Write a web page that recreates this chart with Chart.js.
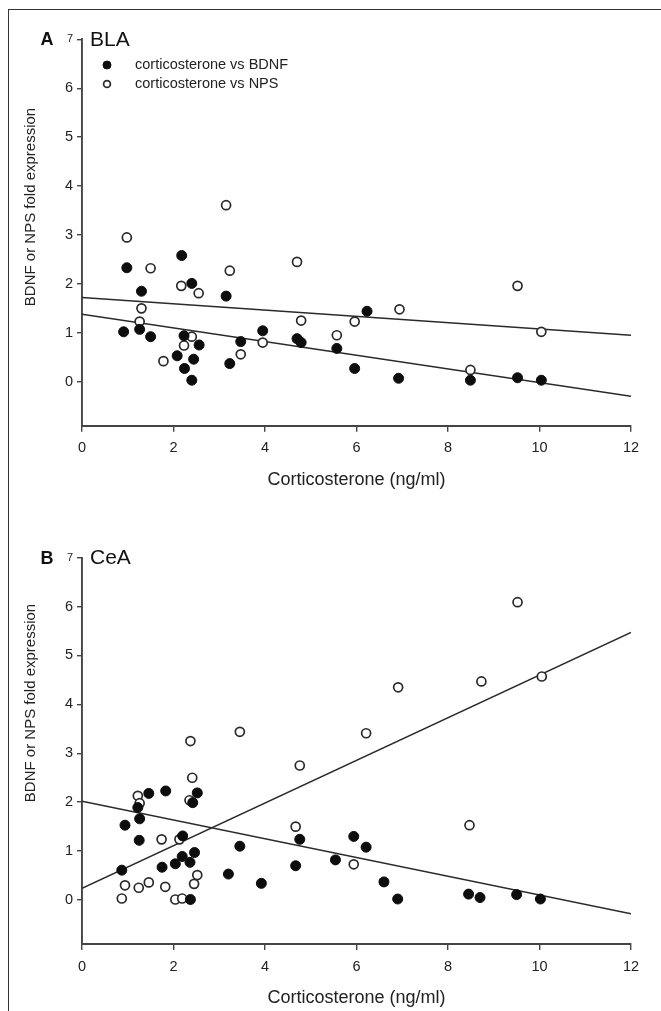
<!DOCTYPE html>
<html>
<head>
<meta charset="utf-8">
<script src="https://cdn.jsdelivr.net/npm/chart.js@4.4.1/dist/chart.umd.min.js"></script>
<style>
    html, body { margin: 0; padding: 0; background: #fff; }
    #page { position: relative; width: 661px; height: 1011px; overflow: hidden; }
    #frame { position: absolute; left: 8px; top: 9px; width: 700px; height: 1100px;
             border-left: 1.5px solid #333; border-top: 1.5px solid #333; }
    canvas { position: absolute; left: 0; }
    #chartA { top: 0; }
    #chartB { top: 500px; }
</style>
</head>
<body>
<div id="page">
    <div id="frame"></div>
    <canvas id="chartA" width="661" height="500"></canvas>
    <canvas id="chartB" width="661" height="511"></canvas>
</div>
<script>
// axis ticks
const xTicks = [0, 2, 4, 6, 8, 10, 12];
const yTicks = [0, 1, 2, 3, 4, 5, 6, 7];
const fitX = [0, 12];

// A - BLA
const blaCortBdnf = [0.91, 0.98, 1.26, 1.30, 1.50, 2.08, 2.18, 2.23, 2.24, 2.40, 2.40, 2.44, 2.56, 3.15, 3.23, 3.47, 3.95, 4.70, 4.79, 5.57, 5.96, 6.23, 6.92, 8.49, 9.52, 10.04];
const blaBdnf     = [1.02, 2.33, 1.07, 1.85, 0.92, 0.53, 2.58, 0.94, 0.27, 2.01, 0.03, 0.46, 0.75, 1.75, 0.37, 0.82, 1.04, 0.88, 0.80, 0.68, 0.27, 1.44, 0.07, 0.03, 0.08, 0.03];
const blaCortNps  = [0.98, 1.26, 1.30, 1.50, 1.78, 2.17, 2.23, 2.40, 2.55, 3.15, 3.23, 3.47, 3.95, 4.70, 4.79, 5.57, 5.96, 6.94, 8.49, 9.52, 10.04];
const blaNps      = [2.95, 1.23, 1.50, 2.32, 0.42, 1.96, 0.74, 0.92, 1.81, 3.61, 2.27, 0.56, 0.80, 2.45, 1.25, 0.95, 1.23, 1.48, 0.24, 1.96, 1.02];
const blaBdnfFit  = [1.38, -0.30];
const blaNpsFit   = [1.72, 0.95];

// B - CeA
const ceaCortBdnf = [0.87, 0.94, 1.22, 1.25, 1.26, 1.46, 1.75, 1.83, 2.04, 2.19, 2.20, 2.36, 2.37, 2.42, 2.46, 2.52, 3.20, 3.45, 3.92, 4.67, 4.76, 5.54, 5.94, 6.21, 6.60, 6.90, 8.45, 8.70, 9.50, 10.02];
const ceaBdnf     = [0.61, 1.53, 1.89, 1.22, 1.66, 2.18, 0.67, 2.23, 0.74, 0.89, 1.31, 0.77, 0.01, 1.99, 0.97, 2.19, 0.53, 1.10, 0.34, 0.70, 1.24, 0.82, 1.30, 1.08, 0.37, 0.02, 0.12, 0.05, 0.11, 0.02];
const ceaCortNps  = [0.87, 0.94, 1.22, 1.24, 1.26, 1.46, 1.74, 1.82, 2.04, 2.13, 2.19, 2.35, 2.37, 2.41, 2.45, 2.52, 3.45, 4.67, 4.76, 5.94, 6.21, 6.91, 8.47, 8.73, 9.52, 10.05];
const ceaNps      = [0.03, 0.30, 2.13, 0.25, 1.98, 0.36, 1.24, 0.27, 0.01, 1.24, 0.03, 2.04, 3.25, 2.50, 0.33, 0.51, 3.44, 1.50, 2.75, 0.73, 3.41, 4.35, 1.53, 4.47, 6.09, 4.57];
const ceaBdnfFit  = [2.02, -0.28];
const ceaNpsFit   = [0.24, 5.47];

const FONT = '"Liberation Sans", Arial, Helvetica, sans-serif';
const INK = '#222';

function toPoints(xs, ys) {
    return xs.map((x, i) => ({ x: x, y: ys[i] }));
}

// panel letter, region name, rotated y title and the in-plot legend
const panelText = {
    id: 'panelText',
    afterDraw(chart, args, o) {
        const ctx = chart.ctx;
        const area = chart.chartArea;
        const top = chart.scales.y.getPixelForValue(7);
        ctx.save();
        ctx.fillStyle = '#111';
        ctx.textBaseline = 'middle';
        ctx.textAlign = 'center';
        ctx.font = 'bold 18px ' + FONT;
        ctx.fillText(o.letter, 47, top + 1);
        ctx.textAlign = 'left';
        ctx.font = '21px ' + FONT;
        ctx.fillText(o.region, area.left + 8, top + 1);

        ctx.fillStyle = INK;
        ctx.save();
        ctx.translate(31, o.titleY);
        ctx.rotate(-Math.PI / 2);
        ctx.textAlign = 'center';
        ctx.font = '15px ' + FONT;
        ctx.fillText('BDNF or NPS fold expression', 0, 0);
        ctx.restore();

        if (o.legend) {
            chart.data.datasets.filter(d => d.type !== 'line').forEach((d, i) => {
                const ly = o.legend.y + i * 19;
                ctx.beginPath();
                ctx.arc(o.legend.x, ly, i === 0 ? 4 : 3.4, 0, Math.PI * 2);
                ctx.fillStyle = d.backgroundColor;
                ctx.fill();
                ctx.lineWidth = d.borderWidth;
                ctx.strokeStyle = d.borderColor;
                ctx.stroke();
                ctx.fillStyle = INK;
                ctx.textAlign = 'left';
                ctx.font = '14.5px ' + FONT;
                ctx.fillText(d.label, o.legend.x + 28, ly);
            });
        }
        ctx.restore();
    }
};

function buildChart(canvasId, p) {
    const canvas = document.getElementById(canvasId);
    const h = canvas.height;
    return new Chart(canvas, {
        type: 'scatter',
        data: {
            datasets: [{
                label: 'corticosterone vs BDNF',
                data: toPoints(p.cortBdnf, p.bdnf),
                backgroundColor: '#0d0d0d',
                borderColor: '#0d0d0d',
                borderWidth: 1,
                pointRadius: 5,
                order: 1
            }, {
                label: 'corticosterone vs NPS',
                data: toPoints(p.cortNps, p.nps),
                backgroundColor: '#fff',
                borderColor: '#2a2a2a',
                borderWidth: 1.7,
                pointRadius: 4.5,
                order: 2
            }, {
                type: 'line',
                label: 'BDNF fit',
                data: toPoints(fitX, p.bdnfFit),
                borderColor: '#2a2a2a',
                borderWidth: 1.5,
                pointRadius: 0,
                order: 3
            }, {
                type: 'line',
                label: 'NPS fit',
                data: toPoints(fitX, p.npsFit),
                borderColor: '#2a2a2a',
                borderWidth: 1.5,
                pointRadius: 0,
                order: 4
            }]
        },
        options: {
            responsive: false,
            animation: false,
            layout: { padding: { top: p.top, right: 30, left: 0, bottom: 0 } },
            plugins: {
                legend: { display: false },
                tooltip: { enabled: false },
                panelText: { letter: p.letter, region: p.region, titleY: p.titleY, legend: p.legend }
            },
            scales: {
                x: {
                    type: 'linear',
                    min: 0,
                    max: 12,
                    afterBuildTicks: s => { s.ticks = xTicks.map(v => ({ value: v })); },
                    afterFit: s => { s.height = h - p.bottom; },
                    grid: { drawOnChartArea: false, tickLength: 6, color: '#444', lineWidth: 1.4 },
                    border: { color: '#444', width: 1.9 },
                    ticks: { color: INK, font: { size: 14.5, family: FONT }, padding: 8, maxRotation: 0 },
                    title: {
                        display: true,
                        text: 'Corticosterone (ng/ml)',
                        color: INK,
                        font: { size: 18, family: FONT },
                        padding: { top: 0, bottom: h - p.xTitleY - 10.8 }
                    }
                },
                y: {
                    min: -0.9,
                    max: 7,
                    afterBuildTicks: s => { s.ticks = yTicks.map(v => ({ value: v })); },
                    afterFit: s => { s.width = 82; },
                    grid: { drawOnChartArea: false, tickLength: 5, color: '#444', lineWidth: 1.4 },
                    border: { color: '#444', width: 1.9 },
                    ticks: {
                        color: INK,
                        padding: 4,
                        font: ctx => ({ size: ctx.tick && ctx.tick.value === 7 ? 11 : 14.5, family: FONT })
                    }
                }
            }
        },
        plugins: [panelText]
    });
}

buildChart('chartA', {
    letter: 'A', region: 'BLA',
    cortBdnf: blaCortBdnf, bdnf: blaBdnf, cortNps: blaCortNps, nps: blaNps,
    bdnfFit: blaBdnfFit, npsFit: blaNpsFit,
    top: 39.4, bottom: 425.7, xTitleY: 480, titleY: 207,
    legend: { x: 107, y: 65 }
});

buildChart('chartB', {
    letter: 'B', region: 'CeA',
    cortBdnf: ceaCortBdnf, bdnf: ceaBdnf, cortNps: ceaCortNps, nps: ceaNps,
    bdnfFit: ceaBdnfFit, npsFit: ceaNpsFit,
    top: 57.7, bottom: 444, xTitleY: 498, titleY: 203,
    legend: null
});
</script>
</body>
</html>
